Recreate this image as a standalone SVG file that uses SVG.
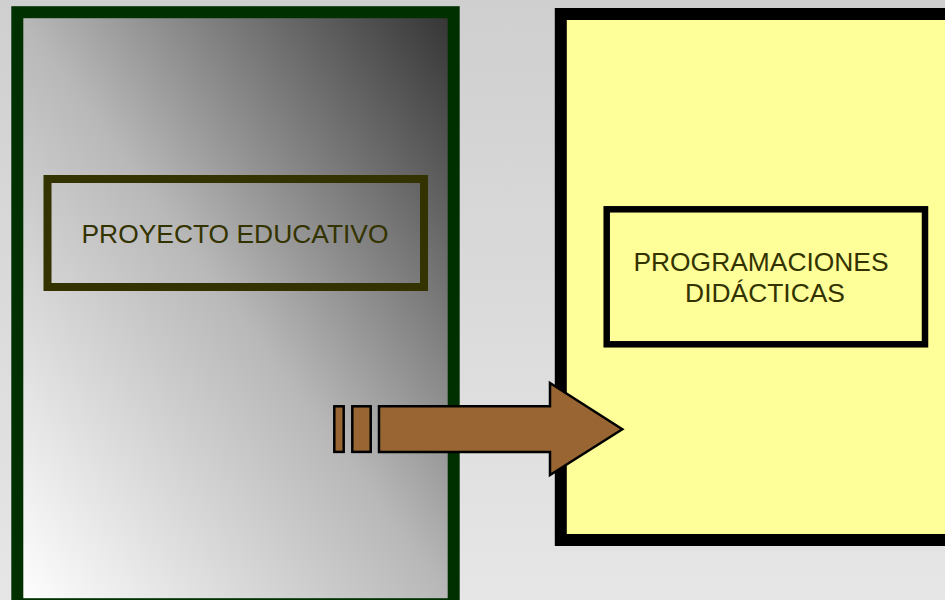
<svg xmlns="http://www.w3.org/2000/svg" width="945" height="600" viewBox="0 0 945 600">
<defs>
<linearGradient id="bg" x1="0" y1="0" x2="0" y2="1">
<stop offset="0" stop-color="#cfcfcf"/>
<stop offset="1" stop-color="#e6e6e6"/>
</linearGradient>
<linearGradient id="grey" x1="0" y1="1" x2="1" y2="0">
<stop offset="0" stop-color="#ffffff"/>
<stop offset="0.5" stop-color="#b8b8b8"/>
<stop offset="1" stop-color="#333333"/>
</linearGradient>
<style>
.lbl{font-family:"Liberation Sans",Arial,sans-serif;font-size:26.4px;fill:#333300;text-anchor:middle}
.arr{fill:#996633;stroke:#000;stroke-width:2.5;stroke-linejoin:miter}
</style>
</defs>
<rect width="945" height="600" fill="url(#bg)"/>
<g id="proyecto-container">
<rect x="17.3" y="12.2" width="436.4" height="592" fill="url(#grey)" stroke="#003000" stroke-width="12"/>
</g>
<g id="programaciones-container">
<rect x="560.8" y="14" width="400" height="526" fill="#ffff99" stroke="#000" stroke-width="12"/>
</g>
<g id="proyecto-educativo">
<rect x="47.5" y="179" width="376.5" height="108" fill="none" stroke="#333300" stroke-width="8"/>
<text class="lbl" x="235" y="242.7">PROYECTO EDUCATIVO</text>
</g>
<g id="programaciones-didacticas">
<rect x="606.7" y="209.3" width="318.3" height="135" fill="none" stroke="#000" stroke-width="6.5"/>
<text class="lbl" x="761" y="270.7">PROGRAMACIONES</text>
<text class="lbl" x="765" y="301.7">DIDÁCTICAS</text>
</g>
<g id="connectors">
<rect class="arr" x="334.3" y="406.3" width="9.4" height="45.6"/>
<rect class="arr" x="352.3" y="406.3" width="18.4" height="45.6"/>
<path class="arr" d="M379 406.3 H550 V383 L622.3 429.3 L550 475 V451.9 H379 Z"/>
</g>
</svg>
